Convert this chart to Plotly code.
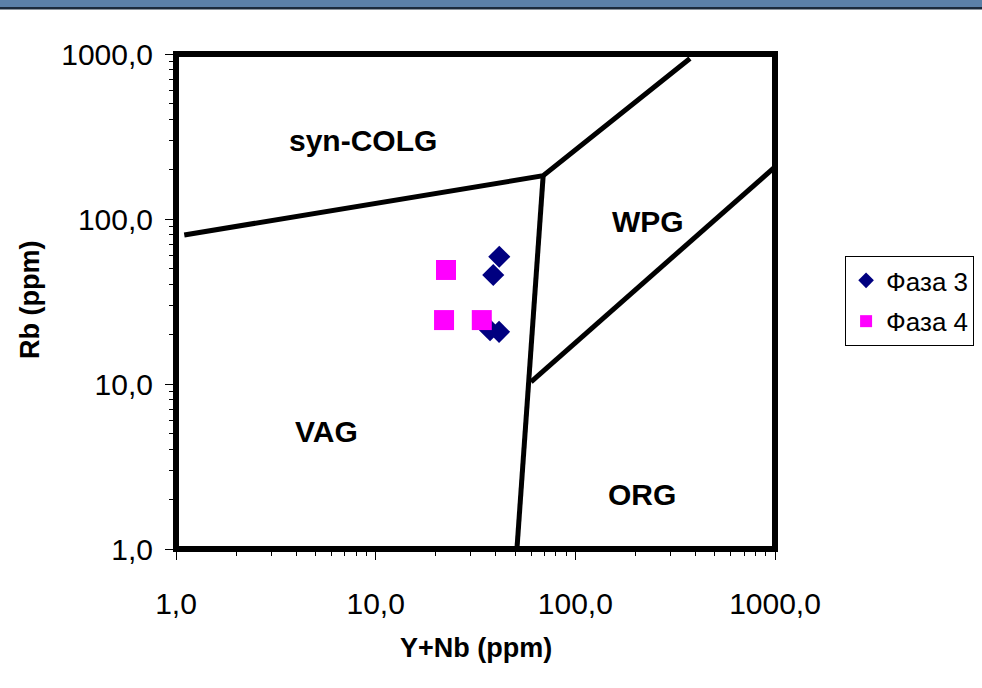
import math
import plotly.graph_objects as go

# --- data ---
faza3_x = [41.6, 38.8, 37.4, 41.5]
faza3_y = [59.1, 45.8, 21.2, 20.7]
faza4_x = [22.5, 22.0, 34.0]
faza4_y = [49.1, 24.4, 24.4]

# field boundaries (Pearce diagram)
b1_x = [1.1, 69.0, 375.0]
b1_y = [80.0, 183.0, 940.0]
b2_x = [69.0, 51.0]
b2_y = [183.0, 1.0]
b3_x = [60.0, 1000.0]
b3_y = [10.3, 207.0]

field_names = ["syn-COLG", "WPG", "VAG", "ORG"]
field_x = [8.69, 231.0, 5.64, 216.0]
field_y = [301.0, 96.0, 5.12, 2.15]

tick_vals = [1, 10, 100, 1000]
tick_text = ["1,0", "10,0", "100,0", "1000,0"]
minor_vals = [m * d for d in (1, 10, 100) for m in range(2, 10)]

FONT = "Liberation Sans, Arial, sans-serif"

fig = go.Figure()
for bx, by in [(b1_x, b1_y), (b2_x, b2_y), (b3_x, b3_y)]:
    fig.add_trace(go.Scatter(x=bx, y=by, mode="lines",
                             line=dict(color="black", width=5),
                             showlegend=False, hoverinfo="skip"))

fig.add_trace(go.Scatter(x=faza3_x, y=faza3_y, mode="markers", name="Фаза 3",
                         legendgroup="f3",
                         marker=dict(symbol="diamond", size=17, color="#000080",
                                     line=dict(width=0))))
fig.add_trace(go.Scatter(x=faza4_x, y=faza4_y, mode="markers", name="Фаза 4",
                         legendgroup="f4",
                         marker=dict(symbol="square", size=20, color="#FF00FF",
                                     line=dict(width=0))))

for name, fx, fy in zip(field_names, field_x, field_y):
    fig.add_annotation(x=math.log10(fx), y=math.log10(fy), xref="x", yref="y",
                       text="<b>%s</b>" % name, showarrow=False,
                       font=dict(family=FONT, size=30, color="black"))

axis_common = dict(type="log", range=[0, 3], showgrid=False, zeroline=False,
                   showline=False, ticks="outside", ticklen=10, tickwidth=1,
                   tickcolor="black", tickmode="array", tickvals=tick_vals,
                   ticktext=tick_text,
                   tickfont=dict(family=FONT, size=30, color="black"),
                   minor=dict(ticks="outside", ticklen=6, tickwidth=1,
                              tickcolor="black", tickmode="array",
                              tickvals=minor_vals, showgrid=False))

fig.update_xaxes(**axis_common, ticklabelstandoff=18)
fig.update_yaxes(**axis_common, ticklabelstandoff=6)

# thick frame
fig.add_shape(type="rect", xref="x domain", yref="y domain", x0=0, x1=1, y0=0, y1=1,
              line=dict(color="black", width=6), layer="above")

# header band
fig.add_shape(type="rect", xref="paper", yref="paper", x0=-0.30, x1=1.35,
              y0=1.0949, y1=1.12, fillcolor="#5b80a8", line=dict(width=0), layer="above")
fig.add_shape(type="rect", xref="paper", yref="paper", x0=-0.30, x1=1.35,
              y0=1.0899, y1=1.0949, fillcolor="#1b2a3c", line=dict(width=0), layer="above")

# axis titles
fig.add_annotation(x=0.5008, y=-0.2, xref="paper", yref="paper", text="<b>Y+Nb (ppm)</b>",
                   xanchor="center", yanchor="middle",
                   showarrow=False, font=dict(family=FONT, size=27, color="black"))
fig.add_annotation(x=-0.2437, y=0.503, xref="paper", yref="paper", text="<b>Rb (ppm)</b>",
                   xanchor="center", yanchor="middle",
                   textangle=-90, showarrow=False,
                   font=dict(family=FONT, size=27, color="black"))

fig.update_layout(
    width=982, height=688,
    margin=dict(l=176, r=207, t=54, b=139, autoexpand=False),
    plot_bgcolor="white", paper_bgcolor="white",
    font=dict(family=FONT, color="black"),
    legend=dict(x=1.117, y=0.592, xanchor="left", yanchor="top",
                bordercolor="black", borderwidth=1, bgcolor="white",
                font=dict(family=FONT, size=26, color="black"),
                traceorder="grouped", tracegroupgap=4,
                itemsizing="constant"),
    showlegend=True,
)

fig.write_html("out.html", config={"displayModeBar": False},
               post_script="document.body.style.margin='0';document.body.style.overflow='hidden';")
